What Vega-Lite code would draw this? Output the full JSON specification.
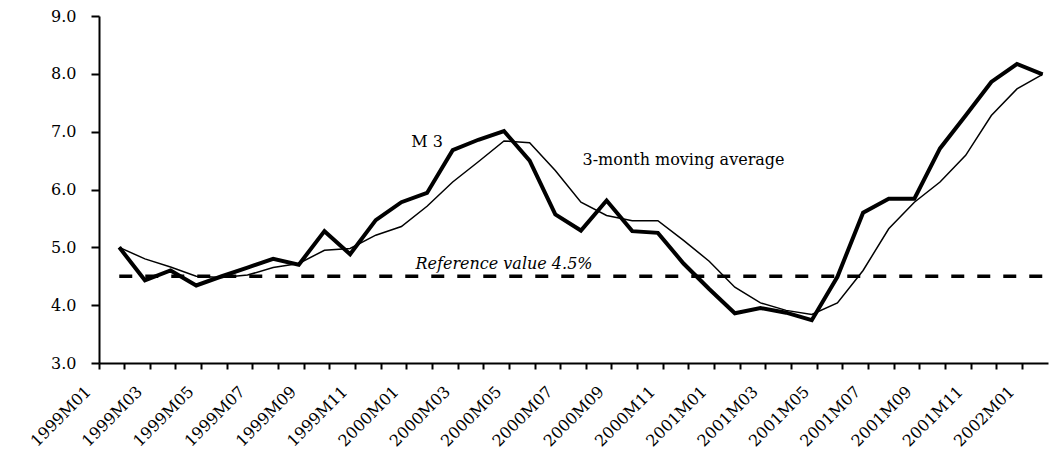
{
  "$schema": "https://vega.github.io/schema/vega-lite/v6.json",
  "width": 949,
  "height": 347,
  "autosize": "none",
  "padding": {"left": 99, "top": 16, "right": 7, "bottom": 87},
  "background": "white",
  "config": {
    "view": {"stroke": null},
    "font": "DejaVu Serif",
    "axis": {
      "ticks": true,
      "tickColor": "#000000",
      "tickOpacity": 1,
      "tickWidth": 2,
      "domainColor": "#000000",
      "domainWidth": 2,
      "labelColor": "#000000",
      "labelFont": "DejaVu Serif",
      "labelFontSize": 16,
      "grid": false
    },
    "axisX": {"tickSize": 6},
    "axisY": {"tickSize": 8}
  },
  "datasets": {
    "m3": [
      {"month": "1999M01", "m3": 5.00, "ma": 5.00},
      {"month": "1999M02", "m3": 4.43, "ma": 4.80},
      {"month": "1999M03", "m3": 4.60, "ma": 4.66},
      {"month": "1999M04", "m3": 4.34, "ma": 4.50},
      {"month": "1999M05", "m3": 4.50, "ma": 4.48},
      {"month": "1999M06", "m3": 4.65, "ma": 4.52},
      {"month": "1999M07", "m3": 4.80, "ma": 4.65},
      {"month": "1999M08", "m3": 4.70, "ma": 4.72},
      {"month": "1999M09", "m3": 5.28, "ma": 4.95},
      {"month": "1999M10", "m3": 4.88, "ma": 4.98},
      {"month": "1999M11", "m3": 5.47, "ma": 5.21},
      {"month": "1999M12", "m3": 5.78, "ma": 5.36},
      {"month": "2000M01", "m3": 5.94, "ma": 5.71},
      {"month": "2000M02", "m3": 6.68, "ma": 6.13},
      {"month": "2000M03", "m3": 6.86, "ma": 6.48},
      {"month": "2000M04", "m3": 7.01, "ma": 6.84},
      {"month": "2000M05", "m3": 6.50, "ma": 6.81},
      {"month": "2000M06", "m3": 5.57, "ma": 6.33},
      {"month": "2000M07", "m3": 5.29, "ma": 5.78},
      {"month": "2000M08", "m3": 5.81, "ma": 5.55},
      {"month": "2000M09", "m3": 5.28, "ma": 5.46},
      {"month": "2000M10", "m3": 5.25, "ma": 5.46},
      {"month": "2000M11", "m3": 4.72, "ma": 5.12},
      {"month": "2000M12", "m3": 4.28, "ma": 4.76},
      {"month": "2001M01", "m3": 3.86, "ma": 4.31},
      {"month": "2001M02", "m3": 3.95, "ma": 4.04},
      {"month": "2001M03", "m3": 3.87, "ma": 3.91},
      {"month": "2001M04", "m3": 3.74, "ma": 3.84},
      {"month": "2001M05", "m3": 4.49, "ma": 4.04},
      {"month": "2001M06", "m3": 5.60, "ma": 4.60},
      {"month": "2001M07", "m3": 5.84, "ma": 5.32},
      {"month": "2001M08", "m3": 5.84, "ma": 5.78},
      {"month": "2001M09", "m3": 6.71, "ma": 6.13},
      {"month": "2001M10", "m3": 7.28, "ma": 6.59},
      {"month": "2001M11", "m3": 7.86, "ma": 7.28},
      {"month": "2001M12", "m3": 8.17, "ma": 7.74},
      {"month": "2002M01", "m3": 7.99, "ma": 7.99}
    ]
  },
  "encoding": {
    "x": {
      "field": "month",
      "type": "ordinal",
      "bandPosition": 0.79,
      "scale": {"type": "band", "paddingInner": 0, "paddingOuter": 0},
      "axis": {
        "title": null,
        "bandPosition": 0,
        "ticks": true,
        "tickSize": 6,
        "labelAngle": -45,
        "labelAlign": "right",
        "labelBaseline": "top",
        "labelOffset": -29,
        "labelPadding": 14,
        "labelExpr": "toNumber(substring(datum.value, 5)) % 2 == 1 ? datum.value : ''",
        "labelOverlap": false,
        "labelBound": false,
        "labelFlush": false
      }
    },
    "y": {
      "field": "value",
      "type": "quantitative",
      "scale": {"domain": [3, 9], "nice": false, "zero": false},
      "axis": {
        "title": null,
        "values": [3, 4, 5, 6, 7, 8, 9],
        "format": ".1f",
        "ticks": true,
        "tickSize": 8,
        "labelPadding": 15
      }
    }
  },
  "layer": [
    {
      "data": {"name": "m3"},
      "transform": [{"fold": ["ma"], "as": ["series", "value"]}],
      "mark": {"type": "line", "color": "black", "strokeWidth": 1.5}
    },
    {
      "data": {"name": "m3"},
      "transform": [{"fold": ["m3"], "as": ["series", "value"]}],
      "mark": {"type": "line", "color": "black", "strokeWidth": 4}
    },
    {
      "data": {"values": [{"month": "1999M01", "value": 4.5}, {"month": "2002M01", "value": 4.5}]},
      "mark": {"type": "line", "color": "black", "strokeWidth": 3.5, "strokeDash": [13, 13]}
    },
    {
      "data": {"values": [
        {"month": "2000M01", "value": 6.73, "label": "M 3"},
        {"month": "2000M11", "value": 6.42, "label": "3-month moving average"}
      ]},
      "mark": {"type": "text", "align": "center", "baseline": "alphabetic", "font": "DejaVu Serif", "fontSize": 16, "color": "black"},
      "encoding": {"text": {"field": "label"}}
    },
    {
      "data": {"values": [{"month": "2000M04", "value": 4.63, "label": "Reference value 4.5%"}]},
      "mark": {"type": "text", "align": "center", "baseline": "alphabetic", "font": "DejaVu Serif", "fontStyle": "italic", "fontSize": 16, "color": "black"},
      "encoding": {"text": {"field": "label"}}
    }
  ]
}
